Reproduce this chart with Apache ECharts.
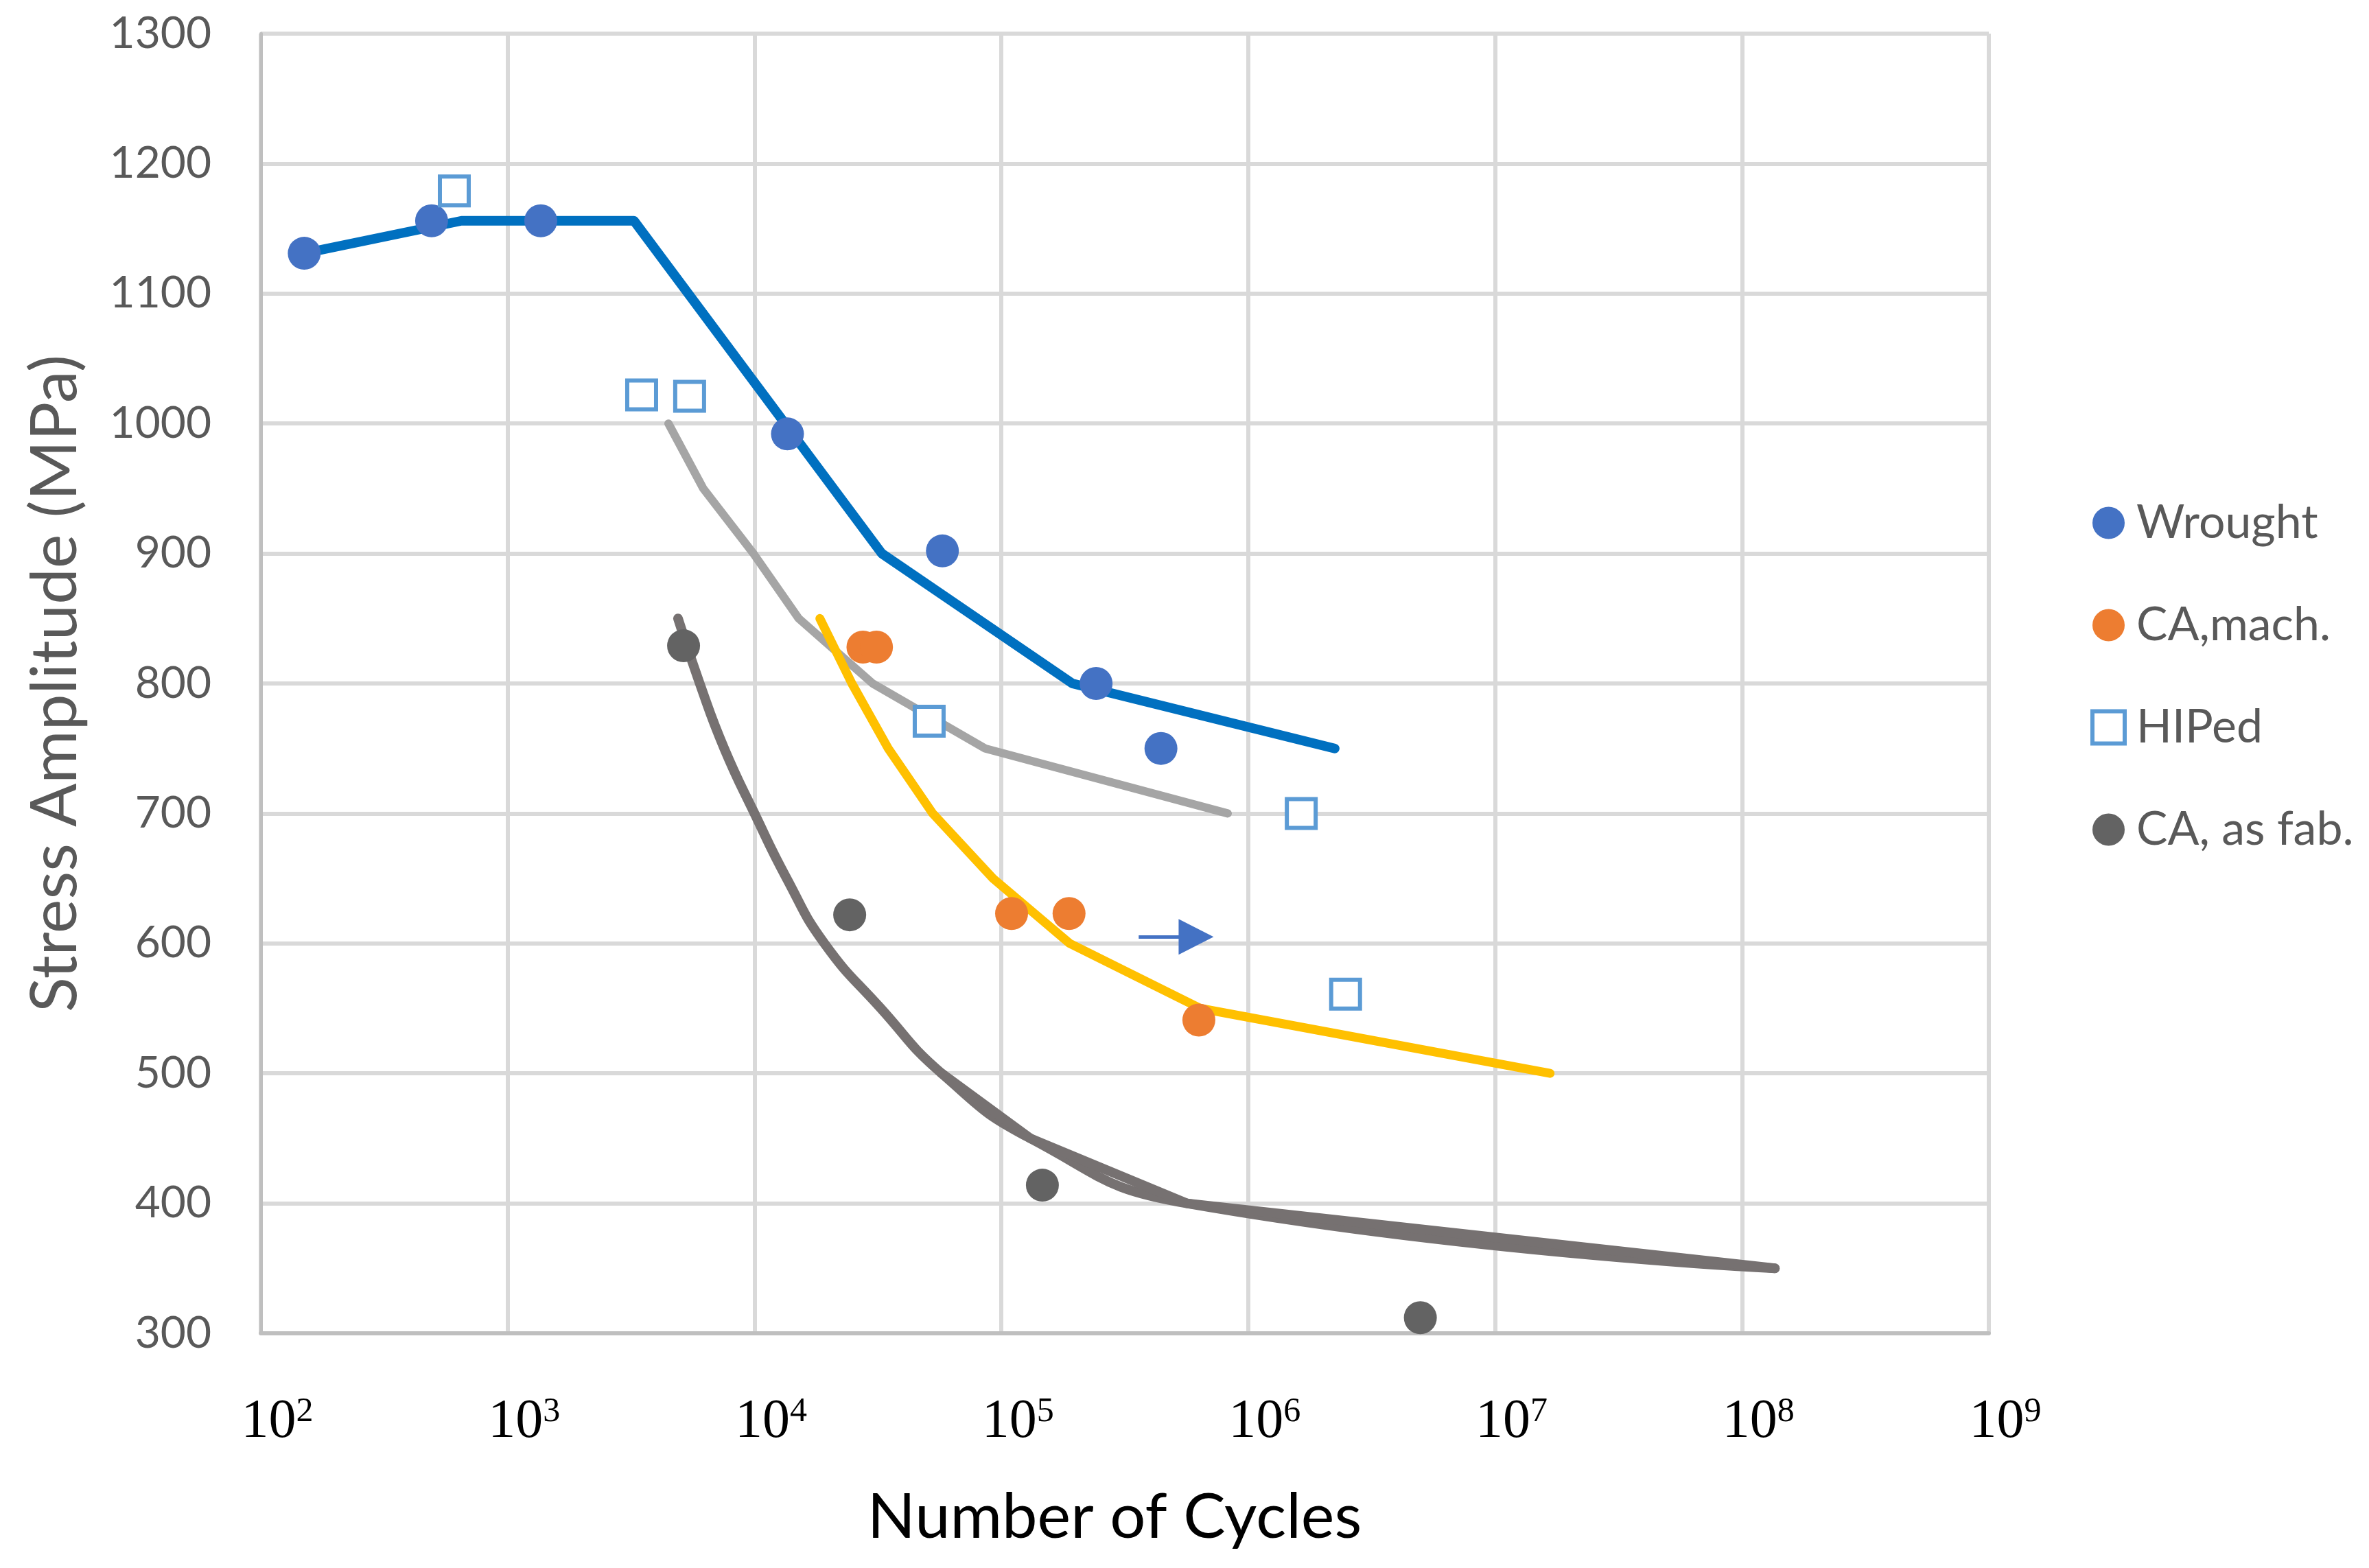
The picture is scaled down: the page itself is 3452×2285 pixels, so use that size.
<!DOCTYPE html>
<html>
<head>
<meta charset="utf-8">
<script src="https://cdn.jsdelivr.net/npm/echarts@6/dist/echarts.min.js"></script>
<style>
html,body{margin:0;padding:0;background:#fff;}
#chart{width:3452px;height:2285px;}
</style>
</head>
<body>
<div id="chart"></div>
<script>
// ---- data (cycles, MPa) ----
const xExponents = [2, 3, 4, 5, 6, 7, 8, 9];
const yTicks = [300, 400, 500, 600, 700, 800, 900, 1000, 1100, 1200, 1300];

const wroughtPts = [[150,1131],[492,1156],[1362,1156],[13600,992],[57700,902],[242000,800],[443000,750]];
const caMachPts  = [[27500,828],[31200,828],[110000,623],[188000,623],[631000,541]];
const hipedPts   = [[608,1179],[3490,1022],[5460,1021],[51000,771],[1640000,700],[2480000,561]];
const caFabPts   = [[5160,829],[24300,622],[146600,414],[4980000,312]];

const wroughtCurve = [[150,1131],[650,1156],[3250,1156],[32800,900],[194000,800],[2240000,750]];
const hipedCurve   = [[4480,1000],[6200,950],[9900,900],[15100,850],[30100,800],[86000,750],[826000,700]];
const caMachCurve  = [[18400,850],[24800,800],[34800,750],[52700,700],[92500,650],[189000,600],[640000,550],[16700000,500]];
const caFabCurve   = [[4900,850],[6000,800],[7540,750],[10000,700],[13500,650],[19200,600],[32500,550],[57300,500],[131000,450],[565000,400],[136000000,350]];
const caFabTail    = [[57300,500],[131000,450],[565000,400],[136000000,350]];

const runoutArrow = [[360000,605],[615000,605]];

const seriesNames = ['Wrought', 'CA,mach.', 'HIPed', 'CA, as fab.'];

const chart = echarts.init(document.getElementById('chart'), null, {renderer:'canvas'});

function lineSeries(name, data, color, width, smooth) {
  return {
    name: name, type: 'line', data: data, showSymbol: false, symbol: 'none',
    smooth: smooth || false,
    lineStyle: {color: color, width: width, cap: 'round', join: 'round'},
    silent: true, z: 2
  };
}

const option = {
  backgroundColor: '#ffffff',
  animation: false,
  grid: {left: 380, right: 554, top: 49, bottom: 342, containLabel: false},
  xAxis: {
    type: 'log', logBase: 10, min: 100, max: 1e9, interval: 1,
    name: 'Number of Cycles', nameLocation: 'middle', nameGap: 222,
    nameTextStyle: {fontFamily: 'Lato', fontSize: 92, color: '#000000', padding: [0, 30, 0, 0]},
    axisLine: {show: true, lineStyle: {color: '#BFBFBF', width: 6}},
    axisTick: {show: false},
    splitLine: {show: true, lineStyle: {color: '#D9D9D9', width: 6}},
    minorSplitLine: {show: false},
    axisLabel: {
      margin: 90,
      padding: [0, 0, 0, 48],
      formatter: function (v) {
        const n = Math.round(Math.log10(v));
        return '{b|10}{s|' + n + '}';
      },
      rich: {
        b: {fontFamily: 'Liberation Serif', fontSize: 80, color: '#000000', verticalAlign: 'top', lineHeight: 80},
        s: {fontFamily: 'Liberation Serif', fontSize: 50, color: '#000000', verticalAlign: 'top', lineHeight: 80, padding: [0,0,30,0]}
      }
    }
  },
  yAxis: {
    type: 'value', min: yTicks[0], max: yTicks[yTicks.length - 1], interval: 100,
    name: 'Stress Amplitude (MPa)', nameLocation: 'middle', nameGap: 252,
    nameTextStyle: {fontFamily: 'Lato', fontSize: 94, color: '#595959'},
    axisLine: {show: true, lineStyle: {color: '#BFBFBF', width: 5}},
    axisTick: {show: false},
    splitLine: {show: true, lineStyle: {color: '#D9D9D9', width: 6}},
    axisLabel: {margin: 72, fontFamily: 'Lato', fontSize: 64, color: '#595959',
      formatter: function (v) { return String(v); }}
  },
  legend: {
    orient: 'vertical', left: 3046, top: 728, padding: 0,
    itemWidth: 47, itemHeight: 47, itemGap: 81,
    textStyle: {fontFamily: 'Lato', fontSize: 68, color: '#595959', padding: [0, 0, 0, 12]},
    data: [
      {name: seriesNames[0], icon: 'circle'},
      {name: seriesNames[1], icon: 'circle'},
      {name: seriesNames[2], icon: 'rect', itemStyle: {color: '#ffffff', borderColor: '#5B9BD5', borderWidth: 6}},
      {name: seriesNames[3], icon: 'circle'}
    ]
  },
  series: [
    lineSeries('wroughtFit', wroughtCurve, '#0070C0', 14),
    lineSeries('hipedFit', hipedCurve, '#A5A5A5', 12),
    lineSeries('caMachFit', caMachCurve, '#FFC000', 13),
    lineSeries('caFabFitSmooth', caFabCurve, '#767171', 14, 0.5),
    lineSeries('caFabFitTail', caFabTail, '#767171', 14),
    {
      name: 'arrow', type: 'line', data: [], silent: true,
      markLine: {
        silent: true, symbol: ['none', 'triangle'], symbolSize: [52, 51],
        label: {show: false},
        lineStyle: {color: '#4472C4', width: 5, type: 'solid'},
        emphasis: {disabled: true},
        data: [[{coord: runoutArrow[0]}, {coord: runoutArrow[1]}]]
      }
    },
    {name: seriesNames[0], type: 'scatter', data: wroughtPts, symbol: 'circle', symbolSize: 48,
     itemStyle: {color: '#4472C4', opacity: 1}, z: 3},
    {name: seriesNames[1], type: 'scatter', data: caMachPts, symbol: 'circle', symbolSize: 48,
     itemStyle: {color: '#ED7D31', opacity: 1}, z: 3},
    {name: seriesNames[2], type: 'scatter', data: hipedPts, symbol: 'rect', symbolSize: 42,
     itemStyle: {color: '#ffffff', borderColor: '#5B9BD5', borderWidth: 6, opacity: 1}, z: 3},
    {name: seriesNames[3], type: 'scatter', data: caFabPts, symbol: 'circle', symbolSize: 48,
     itemStyle: {color: '#636363', opacity: 1}, z: 3}
  ]
};
chart.setOption(option);
</script>
</body>
</html>
